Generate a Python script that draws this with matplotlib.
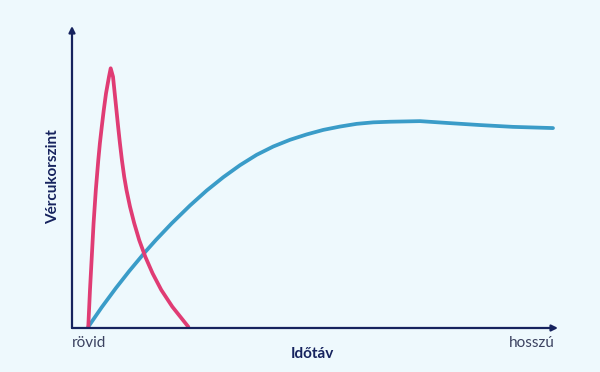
import matplotlib.pyplot as plt

# vércukorszint görbék (x: időtáv 0-100, y: szint 0-100)
pink_x = [3.35, 3.70, 4.07, 4.44, 4.90, 5.41, 5.74, 6.13, 6.54, 7.00, 7.61, 7.96,
          8.44, 8.79, 9.14, 9.49, 9.86, 10.27, 10.74, 11.21, 11.93, 12.80, 13.83,
          15.08, 16.58, 18.37, 20.64, 23.93]
pink_y = [0.4, 12.6, 23.6, 34.7, 45.7, 55.6, 61.2, 66.7, 72.2, 77.7, 83.2, 86.0,
          83.2, 77.7, 72.2, 66.7, 61.2, 55.6, 50.1, 45.7, 40.2, 34.7, 29.1,
          23.6, 18.1, 12.6, 7.05, 0.4]

blue_x = [3.35, 6.11, 9.05, 11.79, 15.02, 17.28, 20.51, 24.28, 27.72, 31.13, 34.57,
          38.00, 41.42, 44.86, 48.29, 51.71, 55.14, 58.58, 62.00, 65.43, 71.60,
          77.16, 83.95, 90.74, 98.97]
blue_y = [0.4, 6.85, 13.25, 18.87, 25.10, 29.17, 34.64, 40.56, 45.53, 49.93, 53.91,
          57.35, 60.10, 62.32, 64.1, 65.6, 66.7, 67.6, 68.1, 68.3, 68.5,
          67.9, 67.2, 66.6, 66.2]

x_labels = ['rövid', 'hosszú']

bg = '#eef9fd'
navy = '#16235e'

fig = plt.figure(figsize=(6, 3.72), dpi=100, facecolor=bg)
ax = fig.add_axes([0.12, 0.1183, 0.81, 0.8118])
ax.set_facecolor(bg)
ax.set_xlim(0, 100)
ax.set_ylim(0, 100)
for s in ax.spines.values():
    s.set_visible(False)
ax.set_xticks([])
ax.set_yticks([])

ax.plot(blue_x, blue_y, color='#3a9cc8', lw=2.7, solid_capstyle='round', solid_joinstyle='round')
ax.plot(pink_x, pink_y, color='#e03c74', lw=2.7, solid_capstyle='round', solid_joinstyle='round')

# tengelyek nyíllal
ax.annotate('', xy=(1.0, 0), xytext=(0, 0), xycoords='axes fraction',
            arrowprops=dict(arrowstyle='-|>', color=navy, lw=1.6, mutation_scale=9,
                            shrinkA=0, shrinkB=0), annotation_clip=False)
ax.annotate('', xy=(0, 1.0), xytext=(0, 0), xycoords='axes fraction',
            arrowprops=dict(arrowstyle='-|>', color=navy, lw=1.6, mutation_scale=9,
                            shrinkA=0, shrinkB=0), annotation_clip=False)

fig.text(72 / 600, 1 - 343 / 372, x_labels[0], ha='left', va='center',
         fontsize=11, color='#3b4260', family='Lato')
fig.text(555 / 600, 1 - 343 / 372, x_labels[1], ha='right', va='center',
         fontsize=11, color='#3b4260', family='Lato')
fig.text(312 / 600, 1 - 354 / 372, 'Időtáv', ha='center', va='center',
         fontsize=11, color=navy, family='Lato', fontweight='bold')
fig.text(53 / 600, 1 - 177 / 372, 'Vércukorszint', ha='center', va='center',
         rotation=90, fontsize=11, color=navy, family='Lato', fontweight='bold')

fig.savefig('out.png', dpi=100, facecolor=bg)
